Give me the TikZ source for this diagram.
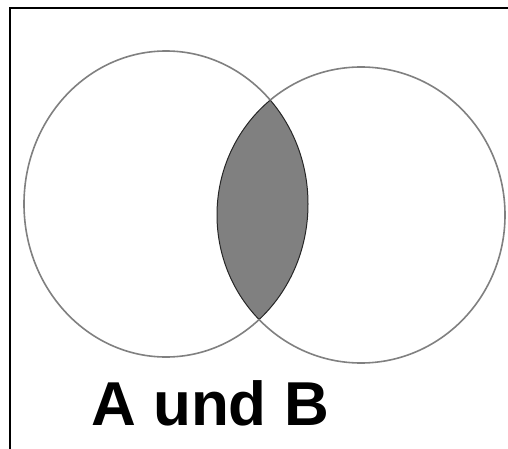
\documentclass[tikz,border=0pt]{standalone}
\usepackage{fontspec}
\setmainfont{Liberation Sans}
\begin{document}
\begin{tikzpicture}[x=1pt,y=-1pt,
  setline/.style={draw=black!50,line width=1.6pt},
  lensfill/.style={fill=black!50},
  lensedge/.style={draw=black!85,line width=1pt},
  frameline/.style={draw=black,line width=2.6pt},
  title/.style={font=\bfseries\fontsize{62}{62}\selectfont,inner sep=0pt,anchor=base west}]
\useasboundingbox (0,0) rectangle (508,449);
\fill[white] (0,0) rectangle (508,449);
\coordinate (ca) at (166,204);
\coordinate (cb) at (361,215);
% lens
\begin{scope}
  \clip (ca) ellipse [x radius=142, y radius=153];
  \path[lensfill] (cb) ellipse [x radius=144, y radius=148];
  \path[lensedge] (cb) ellipse [x radius=144, y radius=148];
\end{scope}
\begin{scope}
  \clip (cb) ellipse [x radius=144, y radius=148];
  \path[lensedge] (ca) ellipse [x radius=142, y radius=153];
\end{scope}
% circles outside the lens
\begin{scope}
  \clip (cb) ellipse [x radius=144, y radius=148] (0,0) rectangle (508,449);
  \path[setline] (ca) ellipse [x radius=142, y radius=153];
\end{scope}
\begin{scope}
  \clip (ca) ellipse [x radius=142, y radius=153] (0,0) rectangle (508,449);
  \path[setline] (cb) ellipse [x radius=144, y radius=148];
\end{scope}
% frame
\coordinate (fa) at (10,449);
\coordinate (fb) at (10,8);
\coordinate (fc) at (508,8);
\draw[frameline] (fa) -- (fb) -- (fc);
\node[title] (lbl) at (91,425) {A und B};
\end{tikzpicture}
\end{document}
